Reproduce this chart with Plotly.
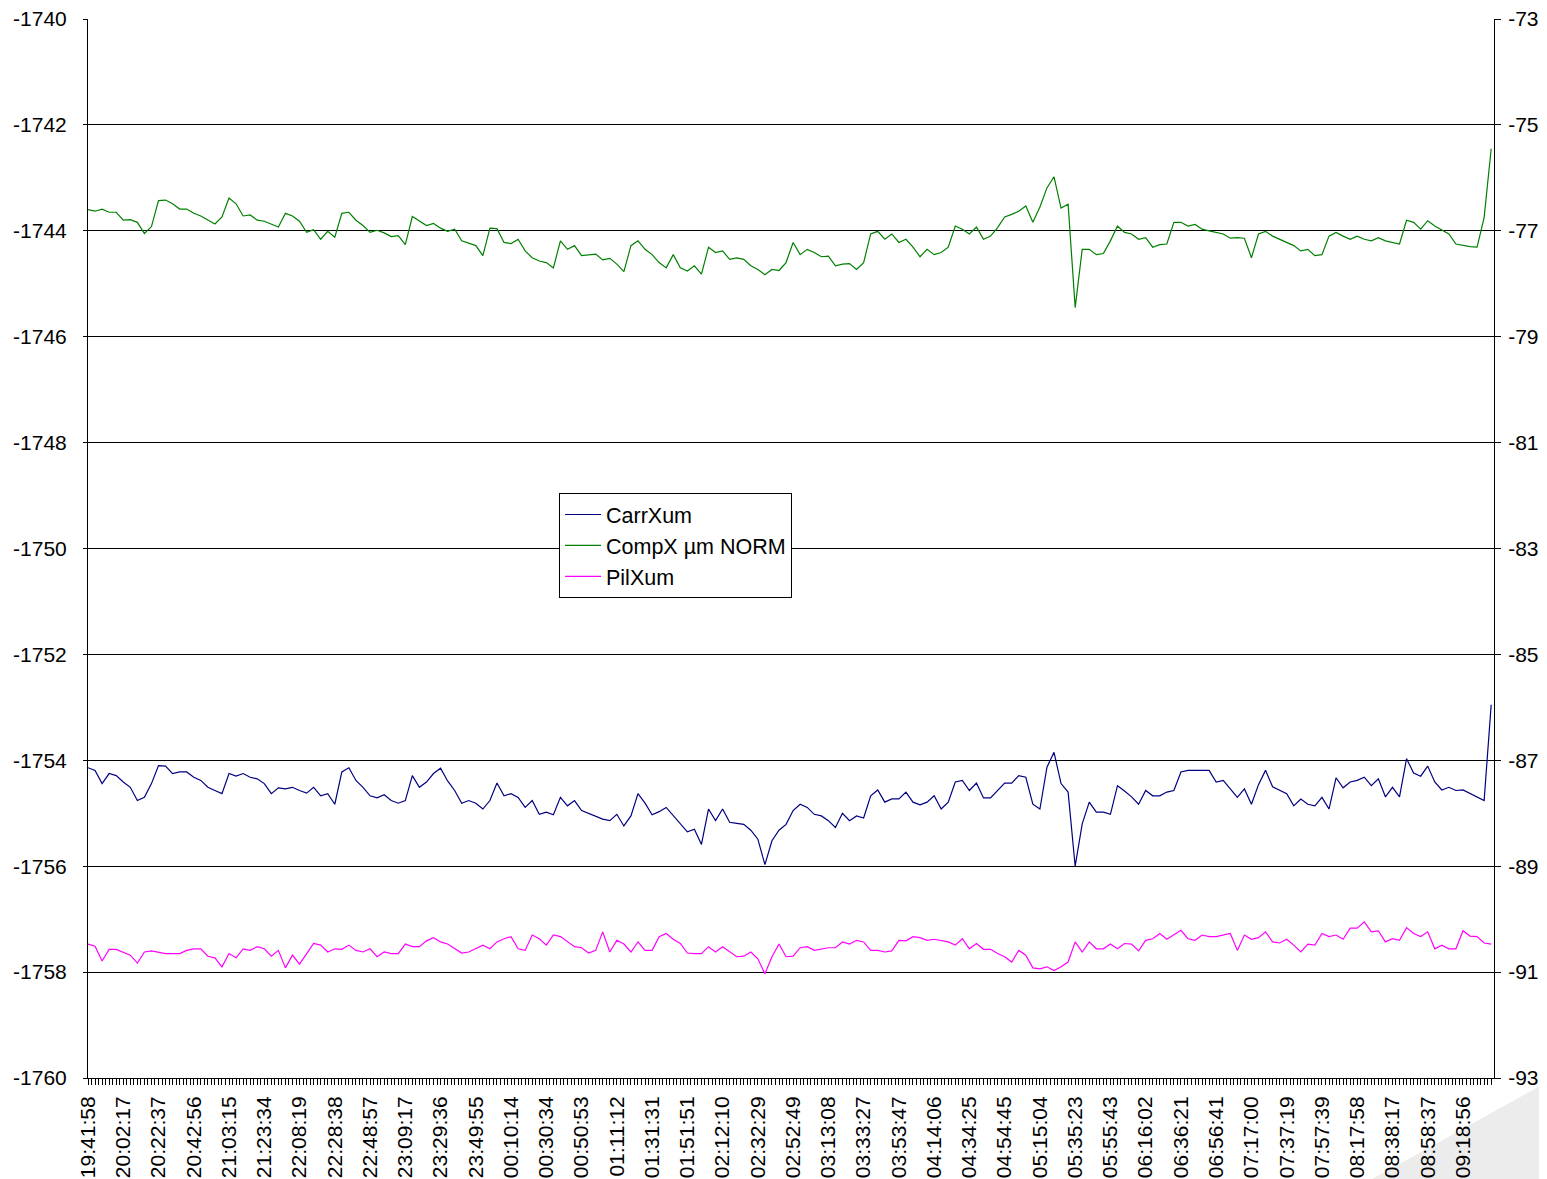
import plotly.graph_objects as go

time_labels = ["19:41:58", "20:02:17", "20:22:37", "20:42:56", "21:03:15", "21:23:34", "22:08:19",
               "22:28:38", "22:48:57", "23:09:17", "23:29:36", "23:49:55", "00:10:14", "00:30:34",
               "00:50:53", "01:11:12", "01:31:31", "01:51:51", "02:12:10", "02:32:29", "02:52:49",
               "03:13:08", "03:33:27", "03:53:47", "04:14:06", "04:34:25", "04:54:45", "05:15:04",
               "05:35:23", "05:55:43", "06:16:02", "06:36:21", "06:56:41", "07:17:00", "07:37:19",
               "07:57:39", "08:17:58", "08:38:17", "08:58:37", "09:18:56"]
samples_per_label = 5

left_ticks = [-1760, -1758, -1756, -1754, -1752, -1750, -1748, -1746, -1744, -1742, -1740]
right_ticks = [-93, -91, -89, -87, -85, -83, -81, -79, -77, -75, -73]

carr_xum = [
    -1754.14, -1754.19, -1754.44, -1754.25, -1754.29, -1754.41, -1754.51, -1754.76, -1754.70, -1754.44,
    -1754.10, -1754.11, -1754.25, -1754.22, -1754.22, -1754.32, -1754.38, -1754.51, -1754.57, -1754.63,
    -1754.25, -1754.30, -1754.25, -1754.32, -1754.35, -1754.44, -1754.63, -1754.52, -1754.54, -1754.51,
    -1754.57, -1754.62, -1754.51, -1754.67, -1754.63, -1754.83, -1754.22, -1754.14, -1754.38, -1754.51,
    -1754.67, -1754.71, -1754.65, -1754.76, -1754.81, -1754.76, -1754.29, -1754.51, -1754.41, -1754.25,
    -1754.15, -1754.39, -1754.57, -1754.81, -1754.76, -1754.81, -1754.92, -1754.76, -1754.43, -1754.67,
    -1754.63, -1754.70, -1754.89, -1754.76, -1755.02, -1754.98, -1755.03, -1754.70, -1754.86, -1754.76,
    -1754.95, -1755.00, -1755.05, -1755.11, -1755.14, -1755.02, -1755.24, -1755.05, -1754.63, -1754.81,
    -1755.03, -1754.97, -1754.89, -1755.05, -1755.19, -1755.35, -1755.30, -1755.59, -1754.92, -1755.14,
    -1754.92, -1755.17, -1755.19, -1755.21, -1755.32, -1755.49, -1755.97, -1755.52, -1755.32, -1755.21,
    -1754.95, -1754.83, -1754.89, -1755.02, -1755.05, -1755.14, -1755.27, -1755.00, -1755.14, -1755.05,
    -1755.09, -1754.67, -1754.56, -1754.79, -1754.73, -1754.73, -1754.60, -1754.79, -1754.84, -1754.79,
    -1754.67, -1754.92, -1754.79, -1754.41, -1754.38, -1754.57, -1754.43, -1754.71, -1754.71, -1754.56,
    -1754.43, -1754.43, -1754.29, -1754.32, -1754.83, -1754.92, -1754.13, -1753.85, -1754.44, -1754.60,
    -1756.00, -1755.20, -1754.79, -1754.98, -1754.98, -1755.02, -1754.48, -1754.58, -1754.69, -1754.83,
    -1754.57, -1754.67, -1754.67, -1754.60, -1754.57, -1754.22, -1754.19, -1754.19, -1754.19, -1754.19,
    -1754.41, -1754.38, -1754.54, -1754.70, -1754.54, -1754.83, -1754.46, -1754.19, -1754.50, -1754.57,
    -1754.63, -1754.86, -1754.73, -1754.83, -1754.86, -1754.70, -1754.92, -1754.33, -1754.52, -1754.41,
    -1754.38, -1754.32, -1754.48, -1754.35, -1754.69, -1754.51, -1754.69, -1753.97, -1754.24, -1754.30,
    -1754.11, -1754.41, -1754.56, -1754.51, -1754.57, -1754.56, -1754.63, -1754.70, -1754.76, -1752.95,
]

compx_um_norm = [
    -1743.60, -1743.63, -1743.59, -1743.65, -1743.65, -1743.80, -1743.79, -1743.84, -1744.05, -1743.92,
    -1743.43, -1743.42, -1743.49, -1743.59, -1743.59, -1743.67, -1743.72, -1743.80, -1743.87, -1743.74,
    -1743.38, -1743.49, -1743.72, -1743.70, -1743.80, -1743.82, -1743.87, -1743.93, -1743.67, -1743.72,
    -1743.82, -1744.03, -1743.98, -1744.16, -1744.01, -1744.12, -1743.67, -1743.65, -1743.80, -1743.90,
    -1744.03, -1743.99, -1744.04, -1744.11, -1744.09, -1744.26, -1743.73, -1743.82, -1743.90, -1743.86,
    -1743.95, -1744.01, -1743.97, -1744.19, -1744.23, -1744.28, -1744.47, -1743.95, -1743.96, -1744.22,
    -1744.24, -1744.16, -1744.38, -1744.51, -1744.57, -1744.60, -1744.70, -1744.19, -1744.35, -1744.28,
    -1744.47, -1744.46, -1744.44, -1744.55, -1744.52, -1744.63, -1744.77, -1744.28, -1744.19, -1744.35,
    -1744.45, -1744.60, -1744.70, -1744.45, -1744.70, -1744.76, -1744.66, -1744.82, -1744.31, -1744.41,
    -1744.38, -1744.54, -1744.51, -1744.54, -1744.66, -1744.73, -1744.83, -1744.73, -1744.75, -1744.60,
    -1744.22, -1744.45, -1744.35, -1744.41, -1744.49, -1744.48, -1744.66, -1744.63, -1744.62, -1744.73,
    -1744.60, -1744.06, -1744.01, -1744.16, -1744.06, -1744.22, -1744.16, -1744.31, -1744.49, -1744.35,
    -1744.45, -1744.41, -1744.31, -1743.91, -1743.97, -1744.06, -1743.93, -1744.16, -1744.10, -1743.94,
    -1743.74, -1743.69, -1743.63, -1743.53, -1743.84, -1743.55, -1743.19, -1742.98, -1743.57, -1743.50,
    -1745.45, -1744.35, -1744.35, -1744.45, -1744.43, -1744.19, -1743.91, -1744.03, -1744.06, -1744.16,
    -1744.13, -1744.31, -1744.26, -1744.25, -1743.84, -1743.84, -1743.91, -1743.88, -1743.97, -1744.00,
    -1744.03, -1744.06, -1744.14, -1744.13, -1744.14, -1744.51, -1744.06, -1744.01, -1744.10, -1744.16,
    -1744.22, -1744.28, -1744.38, -1744.35, -1744.47, -1744.45, -1744.10, -1744.03, -1744.10, -1744.16,
    -1744.10, -1744.16, -1744.19, -1744.13, -1744.19, -1744.22, -1744.25, -1743.80, -1743.84, -1743.97,
    -1743.81, -1743.91, -1743.99, -1744.06, -1744.25, -1744.28, -1744.30, -1744.31, -1743.75, -1742.45,
]

pil_xum = [
    -90.47, -90.51, -90.79, -90.57, -90.57, -90.62, -90.68, -90.83, -90.62, -90.60,
    -90.62, -90.65, -90.65, -90.65, -90.59, -90.56, -90.56, -90.70, -90.73, -90.90,
    -90.65, -90.73, -90.56, -90.59, -90.52, -90.56, -90.70, -90.59, -90.92, -90.68,
    -90.85, -90.65, -90.46, -90.49, -90.62, -90.56, -90.57, -90.49, -90.59, -90.62,
    -90.56, -90.71, -90.62, -90.65, -90.65, -90.47, -90.52, -90.52, -90.41, -90.35,
    -90.43, -90.47, -90.56, -90.64, -90.62, -90.56, -90.49, -90.56, -90.43, -90.37,
    -90.33, -90.56, -90.59, -90.30, -90.37, -90.49, -90.30, -90.33, -90.43, -90.52,
    -90.54, -90.64, -90.59, -90.24, -90.62, -90.40, -90.47, -90.62, -90.43, -90.59,
    -90.59, -90.33, -90.27, -90.38, -90.46, -90.64, -90.65, -90.65, -90.52, -90.62,
    -90.52, -90.62, -90.71, -90.70, -90.62, -90.75, -91.03, -90.71, -90.47, -90.71,
    -90.70, -90.54, -90.52, -90.59, -90.57, -90.54, -90.54, -90.43, -90.47, -90.40,
    -90.43, -90.59, -90.59, -90.62, -90.60, -90.40, -90.41, -90.33, -90.35, -90.40,
    -90.38, -90.41, -90.43, -90.49, -90.37, -90.56, -90.46, -90.57, -90.57, -90.65,
    -90.71, -90.81, -90.59, -90.68, -90.92, -90.94, -90.90, -90.97, -90.90, -90.81,
    -90.43, -90.62, -90.43, -90.56, -90.56, -90.47, -90.56, -90.46, -90.47, -90.60,
    -90.40, -90.37, -90.27, -90.38, -90.30, -90.21, -90.37, -90.40, -90.30, -90.33,
    -90.33, -90.30, -90.27, -90.59, -90.30, -90.38, -90.35, -90.24, -90.43, -90.45,
    -90.38, -90.49, -90.62, -90.47, -90.49, -90.27, -90.33, -90.30, -90.38, -90.17,
    -90.17, -90.05, -90.24, -90.22, -90.43, -90.37, -90.40, -90.16, -90.27, -90.33,
    -90.24, -90.56, -90.49, -90.56, -90.56, -90.22, -90.32, -90.33, -90.45, -90.47,
]

FONT = "Liberation Sans, Arial, sans-serif"
FS = 21
idx = list(range(len(carr_xum)))
tick_vals = [k * samples_per_label for k in range(len(time_labels))]

fig = go.Figure()
fig.add_trace(go.Scatter(x=idx, y=carr_xum, mode="lines", name="CarrXum",
                         line=dict(color="#000080", width=1.2), legendgroup="a"))
fig.add_trace(go.Scatter(x=idx, y=compx_um_norm, mode="lines", name="CompX µm NORM",
                         line=dict(color="#008000", width=1.2), legendgroup="b"))
fig.add_trace(go.Scatter(x=idx, y=pil_xum, mode="lines", name="PilXum",
                         line=dict(color="#FF00FF", width=1.2), legendgroup="c", yaxis="y2"))

# page has an 8px body margin; target plot area in page pixels
OFF = 8
W, H = 1547 - OFF, 1179 - OFF
L, R, T, B = 88, 1494, 19, 1078
pw, ph = R - L, B - T


def px(x):
    return (x - L) / pw


def py(y):
    return 1 - (y - T) / ph


curl = (f"M {px(1372)},{py(1179)} Q {px(1470)},{py(1125)} {px(1547)},{py(1082)} "
        f"L {px(1547)},{py(1179)} Z")

fig.update_layout(
    width=W, height=H,
    margin=dict(l=L - OFF, r=W + OFF - R, t=T - OFF, b=H + OFF - B, pad=0, autoexpand=False),
    paper_bgcolor="white", plot_bgcolor="white",
    font=dict(family=FONT, size=FS, color="black"),
    showlegend=True,
    legend=dict(x=px(559), y=py(493), xanchor="left", yanchor="top",
                bgcolor="white", bordercolor="black", borderwidth=1,
                font=dict(family=FONT, size=21.5, color="black"),
                tracegroupgap=0, traceorder="grouped", itemwidth=36),
    xaxis=dict(range=[0, 199.4], tickmode="array", tickvals=tick_vals, ticktext=time_labels,
               tickangle=-90, ticks="outside", ticklen=6, tickcolor="black",
               showline=True, linecolor="black", linewidth=1, showgrid=False, zeroline=False,
               tickfont=dict(family=FONT, size=FS), ticklabelstandoff=3, automargin=False,
               ticklabeloverflow="allow",
               minor=dict(tickmode="linear", tick0=0, dtick=0.5, ticks="outside",
                          ticklen=6, tickcolor="black", showgrid=False)),
    yaxis=dict(range=[-1760, -1740], tickmode="array", tickvals=left_ticks,
               ticktext=[str(v) for v in left_ticks], showgrid=True, gridcolor="black",
               gridwidth=1, showline=True, linecolor="black", linewidth=1,
               ticks="outside", ticklen=4, tickcolor="black", zeroline=False,
               tickfont=dict(family=FONT, size=FS), ticklabelstandoff=12, automargin=False,
               ticklabeloverflow="allow"),
    yaxis2=dict(range=[-93, -73], tickmode="array", tickvals=right_ticks,
                ticktext=[str(v) for v in right_ticks], overlaying="y", side="right",
                showgrid=False, showline=True, linecolor="black", linewidth=1,
                ticks="outside", ticklen=6, tickcolor="black", zeroline=False,
                tickfont=dict(family=FONT, size=FS), ticklabelstandoff=3, automargin=False,
                ticklabeloverflow="allow"),
    shapes=[dict(type="path", xref="paper", yref="paper", path=curl,
                 fillcolor="#ececec", line=dict(width=0), layer="below")],
)

fig.write_html("out.html")
